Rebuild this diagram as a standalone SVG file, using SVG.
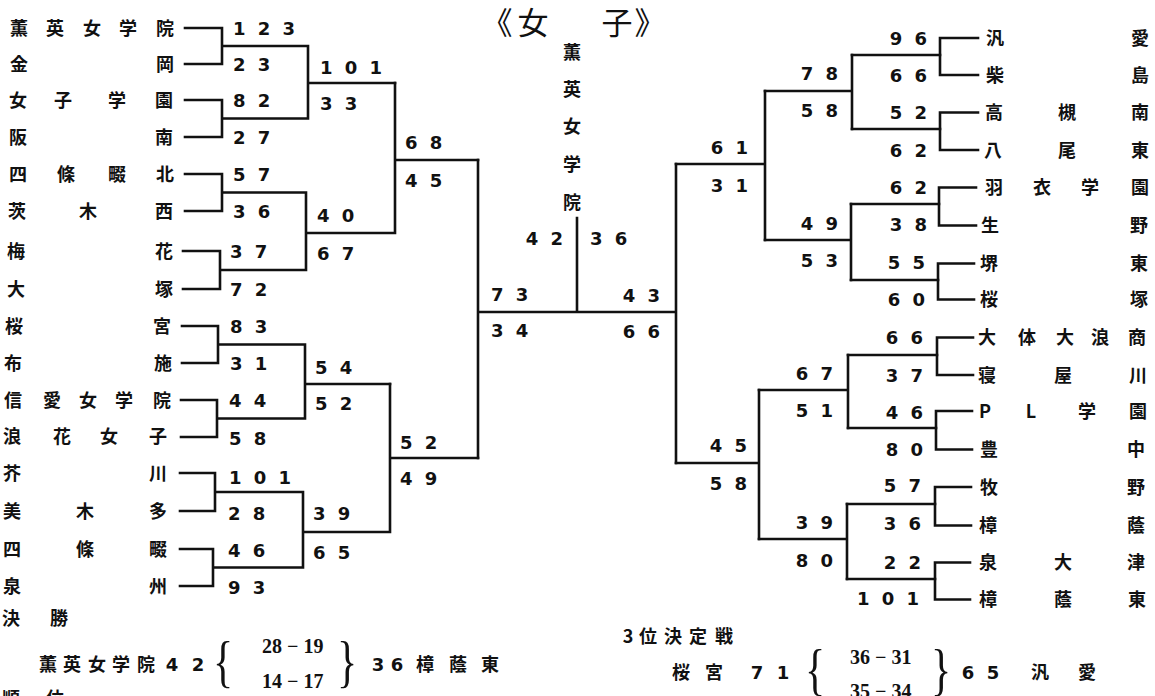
<svg xmlns="http://www.w3.org/2000/svg" width="1155" height="696" viewBox="0 0 1155 696">
<style>
.ln{stroke:#111;stroke-width:2.6;fill:none;stroke-linecap:square;stroke-linejoin:miter}
.nm{font-family:"Noto Sans CJK JP","Noto Sans CJK SC",sans-serif;font-size:18px;font-weight:700;fill:#111;text-anchor:middle}
.sc{font-family:"DejaVu Sans",sans-serif;font-size:18px;font-weight:700;letter-spacing:3px;fill:#111}
.r{text-anchor:end}
.ser{font-family:"Liberation Serif",serif;font-size:20px;font-weight:700;fill:#111}
.br{font-family:"Liberation Serif",serif;font-size:56px;fill:#111}
.ttl{font-family:"Noto Sans CJK JP",sans-serif;font-size:31px;font-weight:400;fill:#111;text-anchor:middle}
</style>
<rect width="1155" height="696" fill="#fff"/>
<g id="title">
<text class="ttl" x="497 533" y="34">《女</text>
<text class="ttl" x="617 650" y="34">子》</text>
</g>
<g id="connectors">
<path class="ln" d="M185,28H222V64H185M222,46H308M185,100H222V137H185M222,118.5H308M308,46V118.5M308,83H395"/>
<path class="ln" d="M185,174H222V211H185M222,192.5H306M183,251H220V289H183M220,270H306M306,192.5V270M306,233H395M395,83V233M395,160H478"/>
<path class="ln" d="M182,326H218V363H182M218,344.5H305M181,400H217V437H181M217,418.5H305M305,344.5V418.5M305,384H390"/>
<path class="ln" d="M180,473H215V511H180M215,492H303M180,549H213V586H180M213,567.5H303M303,492V567.5M303,532H390M390,384V532M390,458H478"/>
<path class="ln" d="M478,160V458M478,312H676M577,218V312M676,164V463"/>
<path class="ln" d="M676,164H765M765,91V240M676,463H759M759,390V539"/>
<path class="ln" d="M765,91H852M852,55V129M765,240H851M851,204V280M759,390H848M848,355V428M759,539H847M847,504V579"/>
<path class="ln" d="M852,55H940M852,129H940M851,204H939M851,280H938M848,355H937M848,428H936M847,504H935M847,579H935"/>
<path class="ln" d="M978,38H940V75H978M978,112.5H940V150H978M976,187.5H939V225.5H976M974,263.5H938V299.5H974"/>
<path class="ln" d="M973,337.5H937V375H973M972,411H936V449.5H972M971,487H935V525.5H971M970,562.5H935V599.5H970"/>
</g>
<g id="left-teams">
<text id="t-l01" class="nm" x="19 55 92 128 165" y="35">薫英女学院</text>
<text id="t-l02" class="nm" x="19 165" y="71">金岡</text>
<text id="t-l03" class="nm" x="18 63 117 164" y="107">女子学園</text>
<text id="t-l04" class="nm" x="18 164" y="144">阪南</text>
<text id="t-l05" class="nm" x="18 66 117 165" y="181">四條畷北</text>
<text id="t-l06" class="nm" x="17 88 164" y="218">茨木西</text>
<text id="t-l07" class="nm" x="16 164" y="258">梅花</text>
<text id="t-l08" class="nm" x="16 164" y="296">大塚</text>
<text id="t-l09" class="nm" x="14 162" y="333">桜宮</text>
<text id="t-l10" class="nm" x="13 163" y="370">布施</text>
<text id="t-l11" class="nm" x="13 52 88 124 162" y="407">信愛女学院</text>
<text id="t-l12" class="nm" x="12 62 109 158" y="443">浪花女子</text>
<text id="t-l13" class="nm" x="12 158" y="480">芥川</text>
<text id="t-l14" class="nm" x="12 85 158" y="518">美木多</text>
<text id="t-l15" class="nm" x="12 85 158" y="556">四條畷</text>
<text id="t-l16" class="nm" x="12 158" y="593">泉州</text>
</g>
<g id="right-teams">
<text id="t-r01" class="nm" x="995 1140" y="45">汎愛</text>
<text id="t-r02" class="nm" x="995 1140" y="82">柴島</text>
<text id="t-r03" class="nm" x="994 1067 1140" y="119">高槻南</text>
<text id="t-r04" class="nm" x="993 1067 1140" y="157">八尾東</text>
<text id="t-r05" class="nm" x="994 1042 1090 1140" y="194">羽衣学園</text>
<text id="t-r06" class="nm" x="990 1139" y="232">生野</text>
<text id="t-r07" class="nm" x="989 1139" y="270">堺東</text>
<text id="t-r08" class="nm" x="989 1139" y="306">桜塚</text>
<text id="t-r09" class="nm" x="987 1027 1065 1100 1137" y="344">大体大浪商</text>
<text id="t-r10" class="nm" x="987 1063 1138" y="382">寝屋川</text>
<text id="t-r11" class="nm" x="985 1031 1087 1138" y="418">PL学園</text>
<text id="t-r12" class="nm" x="989 1136" y="456">豊中</text>
<text id="t-r13" class="nm" x="989 1136" y="494">牧野</text>
<text id="t-r14" class="nm" x="988 1136" y="532">樟蔭</text>
<text id="t-r15" class="nm" x="988 1063 1136" y="569">泉大津</text>
<text id="t-r16" class="nm" x="988 1063 1137" y="606">樟蔭東</text>
</g>
<g id="scores-left">
<text class="sc" x="233" y="35">1 2 3</text>
<text class="sc" x="233" y="71">2 3</text>
<text class="sc" x="233" y="107">8 2</text>
<text class="sc" x="233" y="144">2 7</text>
<text class="sc" x="233" y="181">5 7</text>
<text class="sc" x="233" y="218">3 6</text>
<text class="sc" x="230" y="258">3 7</text>
<text class="sc" x="230" y="296">7 2</text>
<text class="sc" x="230" y="333">8 3</text>
<text class="sc" x="230" y="370">3 1</text>
<text class="sc" x="229" y="407">4 4</text>
<text class="sc" x="229" y="445">5 8</text>
<text class="sc" x="229" y="484">1 0 1</text>
<text class="sc" x="228" y="520">2 8</text>
<text class="sc" x="228" y="557">4 6</text>
<text class="sc" x="228" y="594">9 3</text>
<text class="sc" x="320" y="74">1 0 1</text>
<text class="sc" x="320" y="110">3 3</text>
<text class="sc" x="317" y="222">4 0</text>
<text class="sc" x="317" y="260">6 7</text>
<text class="sc" x="315" y="374">5 4</text>
<text class="sc" x="315" y="410">5 2</text>
<text class="sc" x="313" y="520">3 9</text>
<text class="sc" x="313" y="559">6 5</text>
<text class="sc" x="405" y="149">6 8</text>
<text class="sc" x="405" y="187">4 5</text>
<text class="sc" x="400" y="449">5 2</text>
<text class="sc" x="400" y="485">4 9</text>
<text class="sc" x="491" y="301">7 3</text>
<text class="sc" x="491" y="337">3 4</text>
</g>
<g id="final">
<text class="nm" x="572" y="59">薫</text>
<text class="nm" x="572" y="96">英</text>
<text class="nm" x="572" y="133">女</text>
<text class="nm" x="572" y="171">学</text>
<text class="nm" x="572" y="209">院</text>
<text class="sc r" x="566" y="245">4 2</text>
<text class="sc" x="590" y="245">3 6</text>
</g>
<g id="scores-right">
<text class="sc r" x="663" y="302">4 3</text>
<text class="sc r" x="663" y="338">6 6</text>
<text class="sc r" x="751" y="154">6 1</text>
<text class="sc r" x="751" y="192">3 1</text>
<text class="sc r" x="750" y="452">4 5</text>
<text class="sc r" x="750" y="490">5 8</text>
<text class="sc r" x="841" y="80">7 8</text>
<text class="sc r" x="841" y="117">5 8</text>
<text class="sc r" x="841" y="230">4 9</text>
<text class="sc r" x="841" y="267">5 3</text>
<text class="sc r" x="836" y="380">6 7</text>
<text class="sc r" x="836" y="417">5 1</text>
<text class="sc r" x="836" y="529">3 9</text>
<text class="sc r" x="836" y="567">8 0</text>
<text class="sc r" x="930" y="45">9 6</text>
<text class="sc r" x="930" y="82">6 6</text>
<text class="sc r" x="930" y="119">5 2</text>
<text class="sc r" x="930" y="157">6 2</text>
<text class="sc r" x="930" y="194">6 2</text>
<text class="sc r" x="930" y="231">3 8</text>
<text class="sc r" x="928" y="269">5 5</text>
<text class="sc r" x="928" y="306">6 0</text>
<text class="sc r" x="926" y="344">6 6</text>
<text class="sc r" x="926" y="382">3 7</text>
<text class="sc r" x="926" y="419">4 6</text>
<text class="sc r" x="926" y="456">8 0</text>
<text class="sc r" x="924" y="492">5 7</text>
<text class="sc r" x="924" y="530">3 6</text>
<text class="sc r" x="924" y="569">2 2</text>
<text class="sc r" x="922" y="605">1 0 1</text>
</g>
<g id="results">
<text class="nm" x="11 59" y="625">決勝</text>
<text class="nm" x="48 72 97 121 146" y="671">薫英女学院</text>
<text class="sc" x="172 185 198" y="671" style="letter-spacing:0;text-anchor:middle">4 2</text>
<text class="br" x="0" y="0" transform="translate(213,681) scale(0.75,1)">{</text>
<text class="ser" x="262" y="653">28 − 19</text>
<text class="ser" x="262" y="688">14 − 17</text>
<text class="br" x="0" y="0" transform="translate(337,681) scale(0.75,1)">}</text>
<text class="sc" x="378 387 397" y="671" style="letter-spacing:0;text-anchor:middle">3 6</text>
<text class="nm" x="425 458 490" y="671">樟蔭東</text>
<text class="nm" x="11 55" y="705">順位</text>
<text class="nm" x="628 648 673 698 724" y="643">3位決定戦</text>
<text class="nm" x="681 714" y="679">桜宮</text>
<text class="sc" x="757 770 783" y="679" style="letter-spacing:0;text-anchor:middle">7 1</text>
<text class="br" x="0" y="0" transform="translate(805,689) scale(0.75,1)">{</text>
<text class="ser" x="850" y="664">36 − 31</text>
<text class="ser" x="850" y="698">35 − 34</text>
<text class="br" x="0" y="0" transform="translate(931,689) scale(0.75,1)">}</text>
<text class="sc" x="968 980 993" y="679" style="letter-spacing:0;text-anchor:middle">6 5</text>
<text class="nm" x="1040 1087" y="679">汎愛</text>
</g>
</svg>
